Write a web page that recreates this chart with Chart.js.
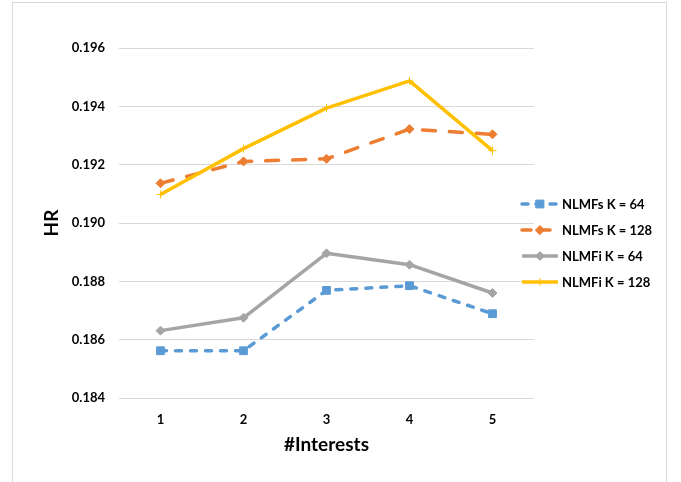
<!DOCTYPE html>
<html>
<head>
<meta charset="utf-8">
<script src="https://cdn.jsdelivr.net/npm/chart.js@4.4.1/dist/chart.umd.min.js"></script>
<style>
  html, body { margin: 0; padding: 0; background: #fff; }
  #wrap { position: relative; width: 681px; height: 482px; overflow: hidden; }
  #frame { position: absolute; left: 12px; top: 2px; width: 655px; height: 500px;
           border: 1px solid #d9d9d9; box-sizing: border-box; }
  canvas { position: absolute; left: 0; top: 0; }
</style>
</head>
<body>
<div id="wrap">
  <div id="frame"></div>
  <canvas id="c" width="681" height="482"></canvas>
</div>
<script>
// Number of interests on the x axis
const categories = ['1', '2', '3', '4', '5'];

// Hit ratio per series
const nlmfsK64  = [0.18562, 0.18562, 0.18769, 0.18785, 0.18689];
const nlmfsK128 = [0.19136, 0.19211, 0.19220, 0.19322, 0.19304];
const nlmfiK64  = [0.18631, 0.18675, 0.18896, 0.18857, 0.18760];
const nlmfiK128 = [0.19098, 0.19255, 0.19394, 0.19487, 0.19248];

const seriesNames = ['NLMFs K = 64', 'NLMFs K = 128', 'NLMFi K = 64', 'NLMFi K = 128'];

// Y axis range and tick spacing
const yMin = 0.184;
const yMax = 0.196;
const yStep = 0.002;

const FONT = 'Lato, "Open Sans", sans-serif';
const TEXT = '#000000';

// Legend to the right of the plot: a line sample with its marker, then the series name
const sideLegend = {
  id: 'sideLegend',
  afterDraw(chart) {
    const ctx = chart.ctx;
    const x0 = 522, x1 = 558, top = 204, gap = 26;
    chart.data.datasets.forEach((ds, i) => {
      const y = top + i * gap;
      ctx.save();
      ctx.strokeStyle = ds.borderColor;
      ctx.fillStyle = ds.borderColor;
      ctx.lineWidth = ds.borderWidth;
      ctx.lineCap = ds.borderCapStyle || 'butt';
      ctx.setLineDash(ds.legendDash || []);
      ctx.beginPath();
      ctx.moveTo(x0, y);
      ctx.lineTo(x1, y);
      ctx.stroke();
      ctx.setLineDash([]);
      ctx.lineWidth = ds.pointBorderWidth;
      Chart.helpers.drawPoint(ctx, {
        pointStyle: ds.pointStyle,
        radius: ds.pointRadius,
        rotation: 0,
        borderWidth: ds.pointBorderWidth
      }, (x0 + x1) / 2, y);
      ctx.fillStyle = TEXT;
      ctx.font = 'bold 13px ' + FONT;
      ctx.textBaseline = 'middle';
      ctx.textAlign = 'left';
      ctx.fillText(ds.label, x1 + 4, y + 1);
      ctx.restore();
    });
  }
};

function makeSeries(label, data, color, style, radius, dash, legendDash, cap) {
  return {
    label: label,
    data: data,
    borderColor: color,
    backgroundColor: color,
    borderWidth: 3.5,
    borderDash: dash,
    legendDash: legendDash,
    borderCapStyle: cap,
    borderJoinStyle: 'round',
    pointStyle: style,
    pointRadius: radius,
    pointHoverRadius: radius,
    pointBorderWidth: 1,
    pointBackgroundColor: color,
    pointBorderColor: color,
    tension: 0,
    fill: false
  };
}

const datasets = [
  makeSeries(seriesNames[0], nlmfsK64,  '#5B9BD5', 'rect',    5.5, [6, 9],   [6, 8],  'round'),
  makeSeries(seriesNames[1], nlmfsK128, '#ED7D31', 'rectRot', 4.5, [13, 14], [9, 10], 'round'),
  makeSeries(seriesNames[2], nlmfiK64,  '#A5A5A5', 'rectRot', 4.5, [],       [],      'butt'),
  makeSeries(seriesNames[3], nlmfiK128, '#FFC000', 'cross',   4,   [],       [],      'butt')
];
datasets[3].order = -1;

new Chart(document.getElementById('c'), {
  type: 'line',
  data: { labels: categories, datasets: datasets },
  options: {
    responsive: false,
    animation: false,
    devicePixelRatio: 1,
    layout: { padding: { left: 0, top: 48, right: 147, bottom: 0 } },
    plugins: {
      legend: { display: false },
      tooltip: { enabled: false }
    },
    scales: {
      x: {
        offset: true,
        grid: { display: false, drawTicks: false },
        border: { display: false },
        ticks: {
          color: TEXT,
          font: { family: FONT, size: 13, weight: 'bold' },
          padding: 14
        },
        title: {
          display: true,
          text: '#Interests',
          color: TEXT,
          font: { family: FONT, size: 19, weight: 'bold' },
          padding: { top: 0, bottom: 26 }
        },
        afterFit(scale) { scale.height = 84; }
      },
      y: {
        min: yMin,
        max: yMax,
        grid: { color: '#d9d9d9', lineWidth: 1, drawTicks: false },
        border: { display: false },
        ticks: {
          stepSize: yStep,
          color: TEXT,
          font: { family: FONT, size: 13, weight: 'bold' },
          padding: 14,
          callback: (v) => Number(v).toFixed(3)
        },
        title: {
          display: true,
          text: 'HR',
          color: TEXT,
          font: { family: FONT, size: 19, weight: 'bold' },
          padding: { top: 40, bottom: 0 }
        },
        afterFit(scale) { scale.width = 119; }
      }
    }
  },
  plugins: [sideLegend]
});
</script>
</body>
</html>
